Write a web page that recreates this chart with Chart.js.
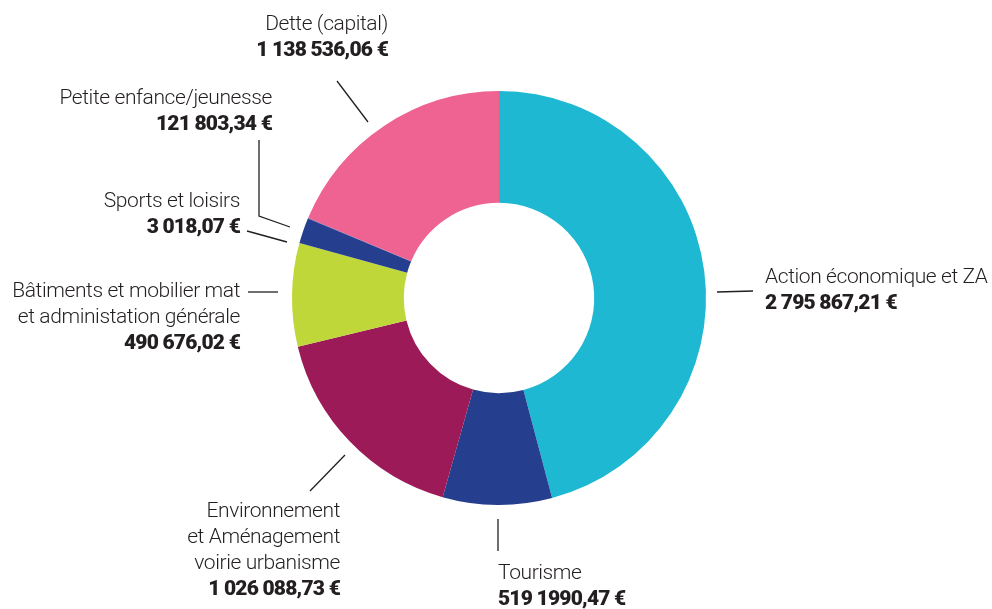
<!DOCTYPE html>
<html>
<head>
<meta charset="utf-8">
<script src="https://cdn.jsdelivr.net/npm/chart.js@4/dist/chart.umd.min.js"></script>
<style>
html,body{margin:0;padding:0;background:#fff;}
#wrap{width:992px;height:609px;position:relative;}
</style>
</head>
<body>
<div id="wrap"><canvas id="c" width="992" height="609"></canvas></div>
<script>
// Data
const categories = [
  "Action économique et ZA",
  "Tourisme",
  "Environnement et Aménagement voirie urbanisme",
  "Bâtiments et mobilier mat et administation générale",
  "Petite enfance/jeunesse",
  "Sports et loisirs",
  "Dette (capital)"
];
const values = [2795867.21, 519199.47, 1026088.73, 490676.02, 121803.34, 3018.07, 1138536.06];
const colors = ["#1EB8D3", "#253F8E", "#9C1A57", "#C0D73A", "#253F8E", "#253F8E", "#EF6392"];
// Label texts as printed
const labelLines = [
  ["Action économique et ZA"],
  ["Tourisme"],
  ["Environnement", "et Aménagement", "voirie urbanisme"],
  ["Bâtiments et mobilier mat", "et administation générale"],
  ["Petite enfance/jeunesse"],
  ["Sports et loisirs"],
  ["Dette (capital)"]
];
const valueLabels = [
  "2 795 867,21 €",
  "519 1990,47 €",
  "1 026 088,73 €",
  "490 676,02 €",
  "121 803,34 €",
  "3 018,07 €",
  "1 138 536,06 €"
];

// Annotation layout (text anchors and leader lines)
const annotLayout = [
  {align:"left",  x:765, y:283, line:[[717,292],[753,291]]},
  {align:"left",  x:498, y:579, line:[[498,519],[498,551]]},
  {align:"right", x:340, y:517, line:[[310,491],[345,455]]},
  {align:"right", x:240, y:297, line:[[248,292],[278,292]]},
  {align:"right", x:272, y:104, line:[[259,140],[259,216],[290,227]]},
  {align:"right", x:240, y:207, line:[[247,231],[287,242]]},
  {align:"right", x:388, y:30,  line:[[337,81],[368,122]]}
];

const FONT_FAMILY = "Roboto, 'Open Sans', sans-serif";
const LINE_H = 26;

const labelPlugin = {
  id: "labels",
  afterDraw(chart) {
    const ctx = chart.ctx;
    ctx.save();
    ctx.strokeStyle = "#231F20";
    ctx.lineWidth = 1.3;
    ctx.fillStyle = "#231F20";
    ctx.textBaseline = "alphabetic";
    annotLayout.forEach((a, i) => {
      ctx.beginPath();
      a.line.forEach((p, k) => k ? ctx.lineTo(p[0], p[1]) : ctx.moveTo(p[0], p[1]));
      ctx.stroke();
      ctx.textAlign = a.align;
      let y = a.y;
      ctx.font = "300 21px " + FONT_FAMILY;
      if ('letterSpacing' in ctx) ctx.letterSpacing = "-0.4px";
      labelLines[i].forEach(t => { ctx.fillText(t, a.x, y); y += LINE_H; });
      ctx.font = "900 21px " + FONT_FAMILY;
      if ('letterSpacing' in ctx) ctx.letterSpacing = "-0.8px";
      ctx.fillText(valueLabels[i], a.x, y);
    });
    ctx.restore();
  }
};

new Chart(document.getElementById("c"), {
  type: "doughnut",
  data: {
    labels: categories,
    datasets: [{
      data: values,
      backgroundColor: colors,
      borderWidth: 0,
      hoverOffset: 0
    }]
  },
  options: {
    responsive: false,
    animation: false,
    cutout: "46%",
    layout: {padding: {left: 292, right: 286, top: 91, bottom: 104}},
    plugins: {legend: {display: false}, tooltip: {enabled: false}}
  },
  plugins: [labelPlugin]
});
</script>
</body>
</html>
